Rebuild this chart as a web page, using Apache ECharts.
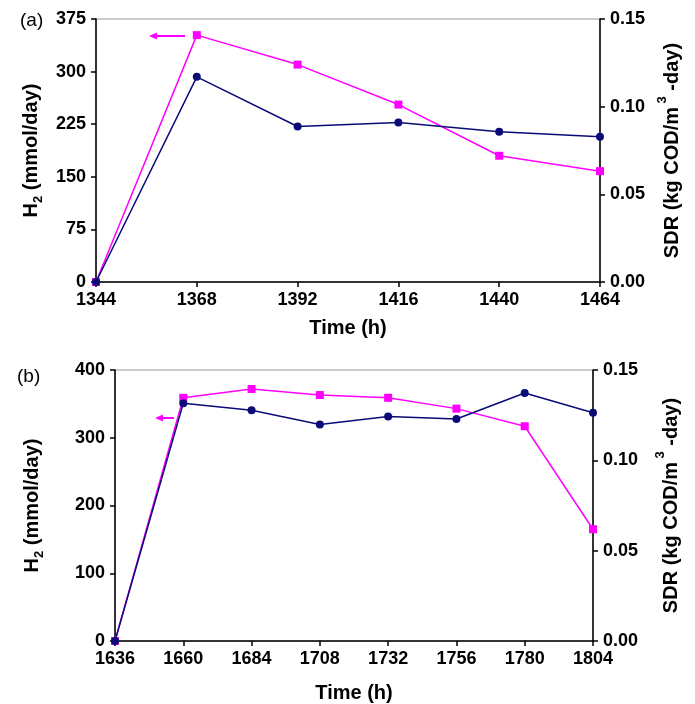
<!DOCTYPE html>
<html>
<head>
<meta charset="utf-8">
<script src="https://cdn.jsdelivr.net/npm/echarts@6/dist/echarts.min.js"></script>
<style>
  html, body { margin: 0; padding: 0; background: #fff; }
  #chart { width: 695px; height: 704px; }
</style>
</head>
<body>
<div id="chart"></div>
<script>
// panel (a)
const timeA = ['1344', '1368', '1392', '1416', '1440', '1464']
const h2A = [0, 352, 310, 253, 180, 158]
const sdrA = [0, 0.117, 0.0887, 0.091, 0.0857, 0.0828]

// panel (b)
const timeB = ['1636', '1660', '1684', '1708', '1732', '1756', '1780', '1804']
const h2B = [0, 359, 372, 363, 359, 343, 317, 165]
const sdrB = [0, 0.1316, 0.1277, 0.1198, 0.1242, 0.1229, 0.1373, 0.1263]

const FONT = '"Liberation Sans", Arial, sans-serif'
const PINK = '#ff00ff'
const NAVY = '#0b0b78'

// 左轴标题 (下标)
const leftRich = {
    b: { fontFamily: FONT, fontWeight: 'bold', fontSize: 20, color: '#000', verticalAlign: 'top', lineHeight: 22 },
    s: { fontFamily: FONT, fontWeight: 'bold', fontSize: 13, color: '#000', verticalAlign: 'top', lineHeight: 14, padding: [11, 0, 0, 0] }
}
// 右轴标题 (上标)
const rightRich = {
    b: { fontFamily: FONT, fontWeight: 'bold', fontSize: 20, color: '#000' },
    p: { fontFamily: FONT, fontWeight: 'bold', fontSize: 13, color: '#000', verticalAlign: 'top', lineHeight: 34 }
}

const grids = [
    { left: 96, top: 19, width: 504, height: 263 },
    { left: 115, top: 370, width: 478, height: 272 }
]

function xAxisFor(idx, data, gap) {
    return {
        type: 'category',
        gridIndex: idx,
        data: data,
        boundaryGap: false,
        name: 'Time (h)',
        nameLocation: 'middle',
        nameGap: gap,
        nameTextStyle: { fontFamily: FONT, fontWeight: 'bold', fontSize: 20, color: '#000' },
        axisLine: { lineStyle: { color: '#000', width: 1.5 } },
        axisTick: { alignWithLabel: true, length: 5, lineStyle: { color: '#000', width: 1.5 } },
        axisLabel: { fontFamily: FONT, fontWeight: 'bold', fontSize: 18, color: '#000', margin: 9 },
        splitLine: { show: false }
    }
}

function leftAxis(idx, max, interval, gap) {
    return {
        type: 'value',
        gridIndex: idx,
        position: 'left',
        min: 0,
        max: max,
        interval: interval,
        name: '{b|H}{s|2}{b| (mmol/day)}',
        nameLocation: 'middle',
        nameRotate: 90,
        nameGap: gap,
        nameTextStyle: { rich: leftRich },
        axisLine: { show: true, lineStyle: { color: '#000', width: 1.5 } },
        axisTick: { show: true, length: 5, lineStyle: { color: '#000', width: 1.5 } },
        axisLabel: { fontFamily: FONT, fontWeight: 'bold', fontSize: 18, color: '#000', margin: 10 },
        splitLine: { show: false }
    }
}

function rightAxis(idx, gap) {
    return {
        type: 'value',
        gridIndex: idx,
        position: 'right',
        min: 0,
        max: 0.15,
        interval: 0.05,
        name: '{b|SDR (kg COD/m}{p| 3}{b| -day)}',
        nameLocation: 'middle',
        nameRotate: 90,
        nameGap: gap,
        nameTextStyle: { rich: rightRich },
        axisLine: { show: true, lineStyle: { color: '#000', width: 1.5 } },
        axisTick: { show: true, length: 5, lineStyle: { color: '#000', width: 1.5 } },
        axisLabel: {
            fontFamily: FONT, fontWeight: 'bold', fontSize: 18, color: '#000', margin: 10,
            formatter: v => v.toFixed(2)
        },
        splitLine: { show: false }
    }
}

function h2Series(xi, yi, data) {
    return {
        type: 'line', xAxisIndex: xi, yAxisIndex: yi, data: data,
        symbol: 'rect', symbolSize: 8,
        lineStyle: { color: PINK, width: 1.5 },
        itemStyle: { color: PINK },
        z: 2
    }
}

function sdrSeries(xi, yi, data) {
    return {
        type: 'line', xAxisIndex: xi, yAxisIndex: yi, data: data,
        symbol: 'circle', symbolSize: 8,
        lineStyle: { color: NAVY, width: 1.5 },
        itemStyle: { color: NAVY },
        z: 3
    }
}

// 画箭头 (指向左轴)
function arrow(x1, x2, y) {
    return [
        { type: 'line', shape: { x1: x1 + 6, y1: y, x2: x2, y2: y }, style: { stroke: PINK, lineWidth: 2 } },
        { type: 'polygon', shape: { points: [[x1, y], [x1 + 8, y - 3.5], [x1 + 8, y + 3.5]] }, style: { fill: PINK } }
    ]
}

const chart = echarts.init(document.getElementById('chart'), null, { renderer: 'canvas' })

chart.setOption({
    animation: false,
    backgroundColor: '#fff',
    grid: grids.map(g => Object.assign({ show: true, borderColor: '#999', borderWidth: 1, backgroundColor: 'transparent' }, g)),
    xAxis: [xAxisFor(0, timeA, 36), xAxisFor(1, timeB, 42)],
    yAxis: [leftAxis(0, 375, 75, 53), rightAxis(0, 55), leftAxis(1, 400, 100, 71), rightAxis(1, 61)],
    series: [
        h2Series(0, 0, h2A),
        sdrSeries(0, 1, sdrA),
        h2Series(1, 2, h2B),
        sdrSeries(1, 3, sdrB)
    ],
    graphic: [
        { type: 'text', left: 20, top: 11, style: { text: '(a)', font: '19px ' + FONT, fill: '#000' } },
        { type: 'text', left: 17, top: 367, style: { text: '(b)', font: '19px ' + FONT, fill: '#000' } }
    ].concat(arrow(149, 185, 36), arrow(155, 174, 418))
})
</script>
</body>
</html>
